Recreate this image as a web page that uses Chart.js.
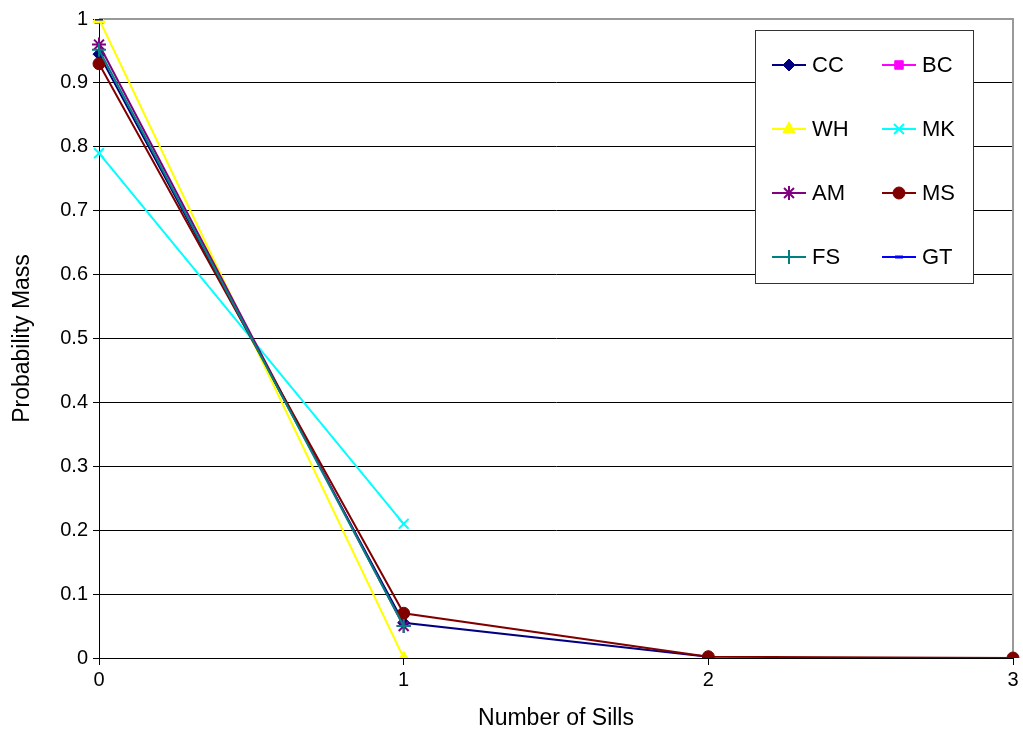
<!DOCTYPE html>
<html>
<head>
<meta charset="utf-8">
<script src="https://cdn.jsdelivr.net/npm/chart.js@4"></script>
<style>
  html, body { margin: 0; padding: 0; background: #fff; }
  #wrap { width: 1023px; height: 732px; }
</style>
</head>
<body>
<div id="wrap"><canvas id="myChart" width="1023" height="732"></canvas></div>
<script>
const sills = ['0', '1', '2', '3'];
const seriesNames = ['CC', 'BC', 'WH', 'MK', 'AM', 'MS', 'FS', 'GT'];
const ccValues = [0.945, 0.055, 0.002];
const bcValues = [1.0];
const whValues = [1.0, 0.0];
const mkValues = [0.79, 0.21];
const amValues = [0.96, 0.05];
const msValues = [0.93, 0.07, 0.002, 0.0];
const fsValues = [0.952, 0.05];
const gtValues = [1.0];
const yTicks = [0, 0.1, 0.2, 0.3, 0.4, 0.5, 0.6, 0.7, 0.8, 0.9, 1];

const allValues = [ccValues, bcValues, whValues, mkValues, amValues, msValues, fsValues, gtValues];
const colors = ['#000080', '#FF00FF', '#FFFF00', '#00FFFF', '#800080', '#800000', '#008080', '#0000FF'];
const styles = ['rectRot', 'rect', 'triangle', 'crossRot', 'star', 'circle', 'cross', 'line'];
const radii = [6, 6, 7, 7, 7, 6, 7, 4];
const pointWidths = [1, 1, 1, 2, 2, 1, 2, 3];

const datasets = seriesNames.map((name, i) => ({
    label: name,
    data: allValues[i],
    borderColor: colors[i],
    backgroundColor: colors[i],
    pointStyle: styles[i],
    pointRadius: radii[i],
    pointBorderWidth: pointWidths[i],
    borderWidth: 2,
    fill: false,
    tension: 0,
    order: seriesNames.length - i
}));

const font = 'Liberation Sans, Arial, sans-serif';

// boxed two-column legend inside the plot area
const boxLegend = {
    id: 'boxLegend',
    afterDraw(chart) {
        const ctx = chart.ctx;
        const x0 = 755, y0 = 30, w = 218, h = 253;
        ctx.save();
        ctx.fillStyle = '#fff';
        ctx.fillRect(x0, y0, w, h);
        ctx.strokeStyle = '#333';
        ctx.lineWidth = 1;
        ctx.strokeRect(x0 + 0.5, y0 + 0.5, w, h);
        const rows = [65, 129, 193, 257];
        const cols = [772, 882];
        chart.data.datasets.forEach((ds, i) => {
            const cx = cols[i % 2];
            const cy = rows[Math.floor(i / 2)];
            ctx.strokeStyle = ds.borderColor;
            ctx.lineWidth = 2;
            ctx.beginPath();
            ctx.moveTo(cx, cy);
            ctx.lineTo(cx + 34, cy);
            ctx.stroke();
            ctx.fillStyle = ds.backgroundColor;
            ctx.strokeStyle = ds.borderColor;
            ctx.lineWidth = ds.pointBorderWidth;
            Chart.helpers.drawPoint(ctx, {
                pointStyle: ds.pointStyle,
                radius: ds.pointRadius,
                borderWidth: ds.pointBorderWidth,
                rotation: 0
            }, cx + 17, cy);
            ctx.fillStyle = '#000';
            ctx.font = '22px ' + font;
            ctx.textBaseline = 'middle';
            ctx.textAlign = 'left';
            ctx.fillText(ds.label, cx + 40, cy + 1);
        });
        ctx.restore();
    }
};

// gray frame on the top and right of the plot area
const plotFrame = {
    id: 'plotFrame',
    beforeDatasetsDraw(chart) {
        const a = chart.chartArea;
        const ctx = chart.ctx;
        ctx.save();
        ctx.strokeStyle = '#999';
        ctx.lineWidth = 2;
        ctx.beginPath();
        ctx.moveTo(a.left, a.top);
        ctx.lineTo(a.right, a.top);
        ctx.lineTo(a.right, a.bottom);
        ctx.stroke();
        ctx.restore();
    }
};

const config = {
    type: 'line',
    data: {
        labels: sills,
        datasets: datasets
    },
    options: {
        responsive: false,
        animation: false,
        layout: { padding: { top: 19, right: 10, left: 0, bottom: 0 } },
        plugins: {
            legend: { display: false },
            tooltip: { enabled: false }
        },
        scales: {
            x: {
                offset: false,
                grid: { display: true, drawOnChartArea: false, color: '#000', tickLength: 7 },
                border: { color: '#000', width: 1 },
                ticks: { color: '#000', font: { family: font, size: 20 }, padding: 3, maxRotation: 0 },
                title: { display: true, text: 'Number of Sills', color: '#000', font: { family: font, size: 23 }, padding: { top: 8, bottom: 0 } },
                afterFit(scale) { scale.height = 74; }
            },
            y: {
                min: 0,
                max: 1,
                afterBuildTicks(scale) { scale.ticks = yTicks.map(v => ({ value: v })); },
                grid: { color: '#000', lineWidth: 1, tickLength: 6 },
                border: { color: '#000', width: 1 },
                ticks: { color: '#000', font: { family: font, size: 20 }, padding: 5, callback: v => String(v) },
                title: { display: true, text: 'Probability Mass', color: '#000', font: { family: font, size: 23 }, padding: { top: 9, bottom: 6 } },
                afterFit(scale) { scale.width = 99; }
            }
        }
    },
    plugins: [plotFrame, boxLegend]
};

var myChart = new Chart(document.getElementById('myChart'), config);
</script>
</body>
</html>
